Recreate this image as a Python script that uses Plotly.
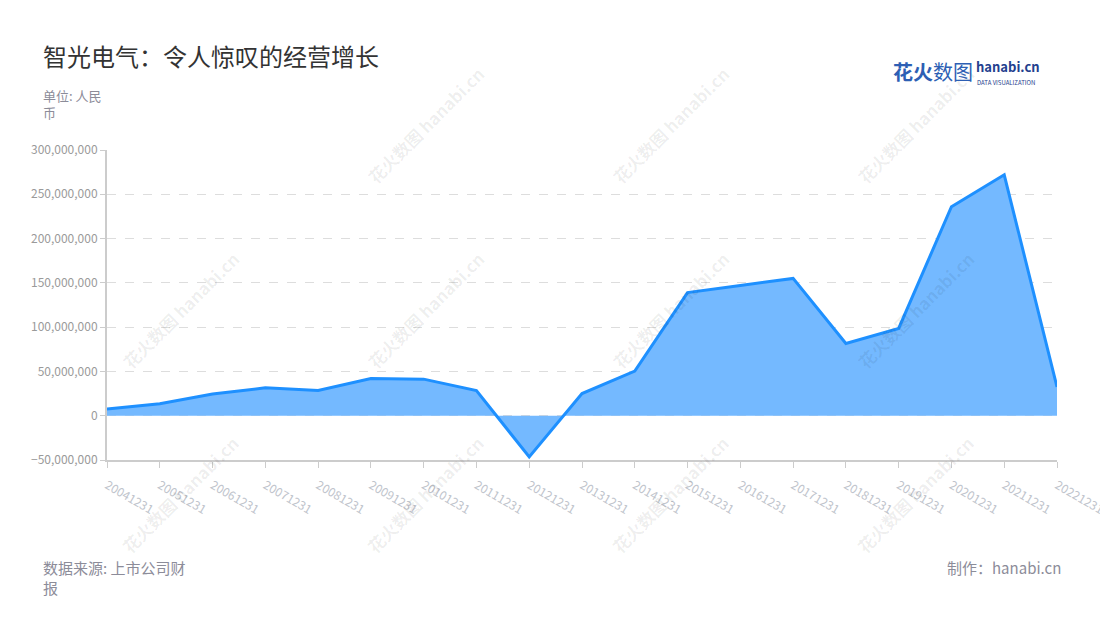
import plotly.graph_objects as go

categories = ["20041231", "20051231", "20061231", "20071231", "20081231", "20091231",
              "20101231", "20111231", "20121231", "20131231", "20141231", "20151231",
              "20161231", "20171231", "20181231", "20191231", "20201231", "20211231",
              "20221231"]
values = [7.5e6, 13.5e6, 24.5e6, 31.5e6, 28.5e6, 42e6,
          41.3e6, 28.4e6, -46.5e6, 25e6, 50.3e6, 139e6,
          147e6, 155e6, 81.5e6, 98.5e6, 236e6, 272e6,
          32.5e6]
y_ticks = [-50e6, 0, 50e6, 100e6, 150e6, 200e6, 250e6, 300e6]

FONT = "Noto Sans CJK SC"

fig = go.Figure()
fig.add_trace(go.Scatter(
    x=categories, y=values, mode="lines",
    line=dict(color="#1e90ff", width=3),
    fill="tozeroy", fillcolor="#74b9ff",
    hoverinfo="x+y",
))

fig.update_layout(
    width=1100, height=620,
    margin=dict(l=107, r=43, t=150, b=160, autoexpand=False),
    paper_bgcolor="white", plot_bgcolor="white",
    showlegend=False,
    font=dict(family=FONT),
    xaxis=dict(
        type="category", range=[0, len(categories) - 1],
        showgrid=False, zeroline=False, automargin=False,
        showline=True, linecolor="#cccccc", linewidth=2,
        ticks="outside", ticklen=6, tickcolor="#cccccc", tickwidth=1,
        tickangle=30, ticklabelstandoff=6,
        tickfont=dict(size=12, color="#c0c4cc", family=FONT),
    ),
    yaxis=dict(
        range=[-50e6, 300e6], tickvals=y_ticks, tickformat=",d",
        showgrid=True, gridcolor="#dddddd", griddash="dash", gridwidth=1,
        zeroline=False, automargin=False,
        showline=True, linecolor="#cccccc", linewidth=2,
        ticks="outside", ticklen=5, tickcolor="#cccccc",
        tickfont=dict(size=12, color="#9a9a9a", family=FONT),
    ),
)

X0, X1, Y0, Y1 = 107, 1057, 150, 460


def px2paper(px, py):
    return (px - X0) / (X1 - X0), (Y1 - py) / (Y1 - Y0)


# watermarks
wm_pos = [(425, 125), (670, 125), (915, 125),
          (180, 310), (425, 310), (670, 310), (915, 310),
          (180, 495), (425, 495), (670, 495), (915, 495)]
for (px, py) in wm_pos:
    xx, yy = px2paper(px, py)
    fig.add_annotation(
        x=xx, y=yy, xref="paper", yref="paper",
        text="<b>花火数图</b> <b>hanabi.cn</b>", showarrow=False, textangle=-45,
        font=dict(size=17, color="rgba(0,0,0,0.07)", family=FONT),
        xanchor="center", yanchor="middle",
    )


def add_text(px, py, text, size, color, xanchor="left", yanchor="middle"):
    xx, yy = px2paper(px, py)
    fig.add_annotation(
        x=xx, y=yy, xref="paper", yref="paper", text=text, showarrow=False,
        xanchor=xanchor, yanchor=yanchor, align=xanchor,
        font=dict(size=size, color=color, family=FONT),
        borderpad=0,
    )


add_text(42, 55, "智光电气：令人惊叹的经营增长", 24, "#333333")
add_text(42, 104, "单位: 人民<br>币", 13, "#8c8c99")
add_text(42, 577, "数据来源: 上市公司财<br>报", 15, "#8c8c99")
add_text(1062, 567, "制作：hanabi.cn", 15, "#8c8c99", xanchor="right")

# logo
add_text(892, 72, "<b>花火</b>数图", 20, "#2d5fb4")
add_text(975, 77, "<b>hanabi.cn</b>", 13, "#23408e", yanchor="bottom")
add_text(976, 77, "DATA VISUALIZATION", 6, "#23408e", yanchor="top")

fig.write_html("out.html",
               config={"displayModeBar": False},
               post_script="document.body.style.margin='0';document.body.style.overflow='hidden';")
